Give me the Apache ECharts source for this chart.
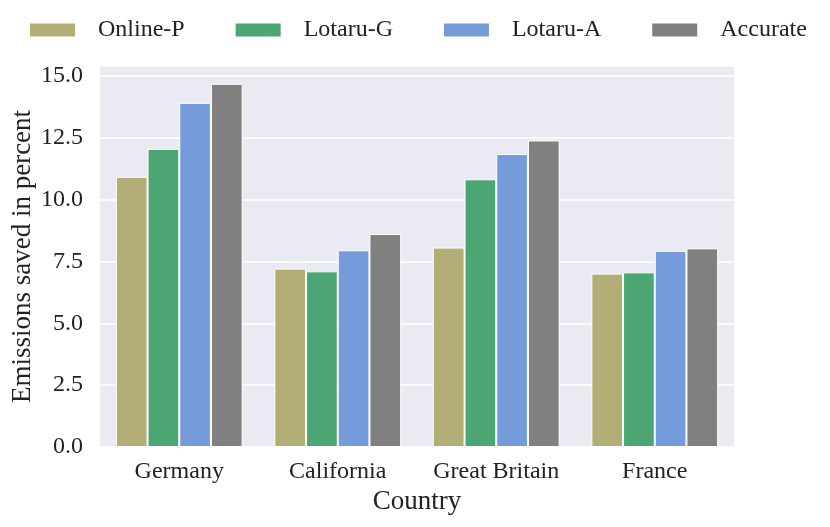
<!DOCTYPE html>
<html>
<head>
	<meta charset="utf-8">
	<title>Emissions saved</title>
	<script src="https://cdn.jsdelivr.net/npm/echarts@6/dist/echarts.min.js"></script>
    <style>
        html, body { margin: 0; padding: 0; background: #fff; }
    </style>
</head>
<body>
	<div id="echarts" style="width: 830px; height: 527px"></div>
	<script>
    var countries = ['Germany', 'California', 'Great Britain', 'France'];
    var onlineP = [10.92, 7.21, 8.06, 7.01];
    var lotaruG = [12.05, 7.10, 10.82, 7.06];
    var lotaruA = [13.91, 7.95, 11.84, 7.93];
    var accurate = [14.68, 8.61, 12.39, 8.03];
    var yTicks = ['0.0', '2.5', '5.0', '7.5', '10.0', '12.5', '15.0'];

    var font = 'Liberation Serif';
    var seriesList = [
        { name: 'Online-P', data: onlineP, color: '#b3ae75' },
        { name: 'Lotaru-G', data: lotaruG, color: '#4ca674' },
        { name: 'Lotaru-A', data: lotaruA, color: '#759bdb' },
        { name: 'Accurate', data: accurate, color: '#808080' }
    ];

	let myChart = echarts.init(document.getElementById('echarts'));
	let option = {
        animation: false,
        textStyle: { fontFamily: font },
        legend: {
            top: 13,
            left: 23,
            itemWidth: 47,
            itemHeight: 15,
            itemGap: 49,
            icon: 'rect',
            textStyle: { fontFamily: font, fontSize: 24, color: '#222', padding: [0, 0, 0, 17] },
            data: seriesList.map(function (s) { return s.name; })
        },
        grid: {
            left: 100,
            right: 96,
            top: 66,
            bottom: 80,
            outerBoundsMode: 'none',
            show: true,
            backgroundColor: '#eaeaf2',
            borderWidth: 0
        },
        xAxis: {
            type: 'category',
            data: countries,
            name: 'Country',
            nameLocation: 'middle',
            nameGap: 40,
            nameTextStyle: { fontFamily: font, fontSize: 27, color: '#222' },
            axisLine: { show: false },
            axisTick: { show: false },
            axisLabel: { fontFamily: font, fontSize: 24, color: '#222', margin: 13, interval: 0 }
        },
        yAxis: {
            type: 'value',
            min: 0,
            max: 15.4,
            interval: 2.5,
            name: 'Emissions saved in percent',
            nameLocation: 'middle',
            nameGap: 64,
            nameMoveOverlap: false,
            nameTextStyle: { fontFamily: font, fontSize: 27, color: '#222' },
            axisLine: { show: false },
            axisTick: { show: false },
            splitLine: { lineStyle: { color: '#ffffff', width: 1.5 } },
            axisLabel: {
                fontFamily: font, fontSize: 24, color: '#222', margin: 17,
                formatter: function (v) {
                    var i = Math.round(v / 2.5);
                    return Math.abs(v - i * 2.5) < 1e-6 && yTicks[i] ? yTicks[i] : '';
                }
            }
        },
        series: seriesList.map(function (s) {
            return {
                name: s.name,
                type: 'bar',
                data: s.data,
                barGap: '0%',
                barCategoryGap: '20%',
                itemStyle: { color: s.color, borderColor: '#ffffff', borderWidth: 1 }
            };
        })
    };
    myChart.setOption(option);
	</script>
</body>
</html>
